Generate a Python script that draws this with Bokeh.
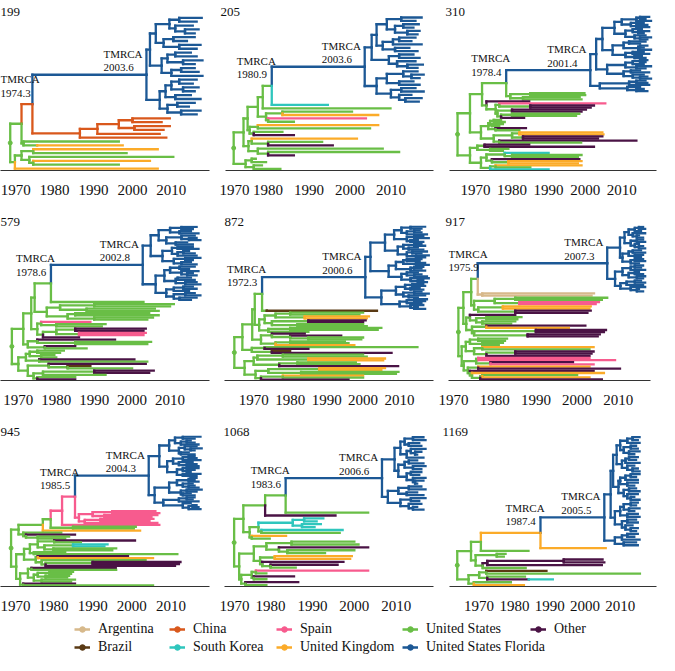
import re
from bokeh.plotting import figure
from bokeh.models import Range1d, ColumnDataSource, Legend, LegendItem
from bokeh.layouts import column, row
from bokeh.embed import file_html
from bokeh.resources import INLINE
from bokeh.core.properties import value

# ---------------- data ----------------
COUNTRIES = ["Argentina", "Brazil", "China", "South Korea", "Spain",
             "United Kingdom", "United States", "United States Florida", "Other"]
CODES = ["A", "B", "C", "K", "S", "G", "U", "F", "O"]
COLORS = ["#d7b98b", "#5a3a14", "#d9581c", "#2fc6bd", "#f75b8e",
          "#fbab29", "#69be46", "#1c5895", "#4a1345"]
TICKS = [1970, 1980, 1990, 2000, 2010]
PANEL_NAMES = ["199", "205", "310", "579", "872", "917", "945", "1068", "1169"]

# Trees: Newick-like, label = [country code] + date; code inherited from parent when absent.
# '*' marks nodes annotated with their TMRCA.  <F> = Florida clade.
BB_199 = ("(((<F>,"
          "((((2009.6,2007.5)2000,(2009.6,2008)2000.5)1996.5,2007)1991,2008.7)1986.5"
          ")C1974.3*,(1996.5,(G1997.5)1975.5)1972)1971.5,"
          "(((G2006.5,1998.5)1974.5,(2010.5,(G2004.5,1996.5)1974.5)1973.5)1971.5,G2006.5)1969.8"
          ")U1968.6")
FL_199 = ("((("
          "((2017.8,2016.5)2012,(2015.5,(2017,2016)2013.5)2011)2009.5,"
          "((2016,2014)2010.5,(2017.5,2016.5)2012)2008)2006,"
          "(((2015,2016.5)2011,(2018,2016)2013)2009,((2016,2017)2012.5,2018)2010)2007.5)2004.5,"
          "((((2016.5,2015.5)2012,(2017,2016)2013)2010,(2015,2017.5)2011)2008.5,"
          "((2016,2014.5)2011.5,(2017.5,2016.5)2012.5)2009)2007"
          ")F2003.6*")

BB_205 = ("((((((<F>,K1994.6)U1980.9*,2009.9)1978.7,"
          "((2000.5,G2006.9)1983.5,(S2003.9,1986.3)1980)1979.5)1977.5,"
          "((G2006.9,2004.9)1977.5,(1983.5,O1986.3)1976.5)1975.5)1975,"
          "((G2001.7,(1993.2,O1995.8)1980)1976,(2008,(2012,O1986.3)1980)1977.5)1975.2)1974,"
          "((1977,1979.5)1976,(1978.5,1983)1976.5)1974.5"
          ")U1971.6")
FL_205 = ("((("
          "((2017.5,2016)2012.5,((2016.8,2015.5)2013,(2017,2016.5)2014)2011)2009,"
          "(((2016,2015)2012,2017.5)2010.5,(2014.5,2016.5)2011)2008)2006.5,"
          "((2015.5,2017)2012,(2016,(2017.8,2016.5)2014)2011.5)2009.5)2005.3,"
          "(((2016.5,(2018,2017)2015)2013,(2015.5,2017)2012)2009,"
          "((2016,2018)2012.5,(2015,(2017.5,2016.8)2013.5)2012)2010)2006.5"
          ")F2003.6*")

BB_310 = ("((((<F>,((1999.8,2000)1985,(1998.5,1999)1983)1979.5)1978.4*,"
          "(O1984.7,((S2005.5,(O2002.4,O2001.5)1985)1976.5,((O2000.2,O1999)1980,((1998.4,1997.5)1980,O1983.3)1977)1976)1975.5)1973)1971.8,"
          "((((1977,1978)1975,(1977.5,1976.5)1974.5)1974,(O1983.8,1982)1975.5)1973.5,"
          "(((G2004.7,G2005)1982,(O2004.7,O2003.5)1983)1980,(O2014,1998.9)1976.5)1975)1971.5)1968.5,"
          "(((O1984.7,O2002.4)1972.5,(1979,1977.5)1974)1970.5,"
          "(((K1990,(1999,1998)1980)1978,(O1998.4,(G1999,G1998)1979)1974.5)1973,((G1999,1985)1975.5,K1990)1974)1971.5)1968.5"
          ")U1965.1")
FL_310 = ("((("
          "((((2017.5,2016.5)2015,2018)2014,(2016,(2017,2017.5)2014)2012.5)2010,"
          "((2015.5,(2017.5,2016)2014.5)2013,(2016.5,(2018,2017)2015)2013.5)2011)2008,"
          "(((2016.5,2015)2012,((2017,2016)2015,2018)2014.5)2010.5,((2016,2017.5)2013,(2015.5,2016.5)2013.5)2011)2007.5"
          ")2004.7,"
          "((((2017,2016.5)2015,2016)2013,(2018,2016.5)2014)2011,((2015,2017.5)2012.5,(2016,(2017,2018)2015)2013)2010.5)2006"
          ")2003,"
          "(((2016.5,2017)2014,2017.5)2012,(2015,(2016,2017)2014)2011.5)2004"
          ")F2001.4*")

BB_579 = ("(((((<F>,2003)1978.6*,"
          "(((2011,2010)1990,(2006,2007)1988)1981,((2004.5,2007)1985,(2005.5,2004)1990)1983)1977.5)1974.3,"
          "((S1989,(1993,1992)1980)1976,(((O2003.6,O2003)1985,(S2003.6,S2003)1986)1980,O1986)1976.5)1975)1973.4,"
          "((O1995.5,(2005,2004)1985)1975,(O1985,1988)1977)1972.5)1971.3,"
          "((((1982,1981)1975,(1979.5,1980)1976)1973,(O2000.6,2004)1975.5)1972,"
          "((O2003.6,(B1989,2000)1983)1978,(((O2005.7,O2004.5)1990,1993)1976.5,(1985,O1985)1975)1974)1972.5)1970"
          ")U1968.3")
FL_579 = ("(("
          "(((2017,2016)2013,(2015.5,2017.5)2012.5)2010,((2016.5,(2017,2018)2015)2013,(2014.5,2016)2011.5)2009)2007,"
          "(((2016,2017.5)2012,((2015,2016.5)2013.5,2017)2012)2010.5,((2018,2016)2014,(2015.5,2017)2013)2011)2008"
          ")2004.9,("
          "(((2016.5,2015)2012.5,(2017.5,(2016,2017)2014.5)2013)2010,((2015.5,2016.5)2012,(2017,2018)2014)2011.5)2008.5,"
          "(((2016,2017)2013.5,2015)2011,((2016.5,2018)2014,(2017,2015.5)2012.5)2011)2009"
          ")2006.2)F2002.8*")

BB_872 = ("(((((<F>,(B2003.8)1973.6)1972.3*,"
          "((((2000,1999)1980,(G2001.6,G2001)1984)1976,((O2000.7,O2000)1985,(2000,2001)1982)1975)1973,"
          "((2005,2004)1980,1985)1974)1971.5)1970.3,"
          "((O1984,(O1994,(2000,1999.5)1985)1980)1975,((1995,1996)1980,G1997.6)1976)1972)1969.6,"
          "((2014.9,O1985)1973,(B1980,O2007.8)1975)1969.5)1966.9,"
          "((((2000,2001)1978,(G2006,G2005.5)1985)1971,((1998,1999)1982,O2009.6)1977)1970,"
          "(((G2006,G2005)1988,(2009.7,2009)1983)1974,((G2000,2000)1978,O1996)1972)1970.5)1967.5"
          ")U1964.7")
FL_872 = ("(("
          "((((2017,2016)2013,((2015.5,2016)2014,2017.5)2012)2010.5,((2016.5,2018)2014,(2015,2016.5)2013)2012)2008.5,"
          "(((2016,2017)2014,(2015,2016.5)2012.5)2011,((2017.5,2016)2013.5,(2018,2017)2014.5)2012)2009.5)2006,"
          "((((2016,2015.5)2012,(2017,2018)2014.5)2011,((2016.5,2016)2014,2017)2013)2009,"
          "((2015,(2016,2017.5)2014)2012,(2018,(2016.5,2017.5)2015)2013)2010.5)2007"
          ")2002,"
          "((((2016.5,2017)2013.5,(2015.5,2016.5)2013)2011.5,((2016,2018)2014,(2017,2015)2012.5)2011)2009,"
          "(((2017.5,2017)2014,2016)2012,(2016.5,(2015,2017)2014)2013)2010)2005"
          ")F2000.6*")

BB_917 = ("((((<F>,(2004.1,2003.5)A1977)1975.9*,"
          "(((2007.3,2006)1985,(S2005.3,S2004.5)1986)1980,((G2003.3,G2003)1982,(O2003.3,O2002.5)1985)1976)1975)1974.3,"
          "((O1985,((1986.5,1985.5)1978,(1985,1984)1977)1975.5)1974,"
          "((O2002,G1998)1978,((O2007,O2006.5)1990,(O2005.5,O2005)1988)1975)1974.5)1973.1)1972.4,"
          "((((1983,1982.5)1976,(1982,1981)1977)1974,((G2004,2003)1977,((O2004,O2003.5)1985,O2003)1978)1975)1973,"
          "(((S2003,S2009.2)1976,(O1999,S2004)1979)1975.5,"
          "((G2003,O2010.4)1976,(O2004,(G2006.5,((2000,G2003)1977,O2006)1976.5)1974.5)1974)1973.5)1972.5)1972"
          ")U1971.2")
FL_917 = ("("
          "(((((2016,2016.5)2015,2015.5)2014,(2016.5,(2015,2016)2014.5)2013.5)2012.5,"
          "((2016,2016.5)2014.5,(2015,(2016,2016.5)2015)2014)2013)2011.5,"
          "(((2015.5,2016.5)2013.5,(2016,2015.5)2014)2012.5,((2016,2016.5)2014,2015)2013)2011)2010.4,"
          "((((2016,2015.5)2014,2016.5)2013,((2015,2016)2014,(2016.5,2016)2014.5)2012.5)2011,"
          "(((2015.5,2016.5)2014,2016)2012,(2016.5,(2015,2016)2014.5)2013)2010.5)2009.2"
          ")F2007.3*")

BB_945 = ("((((((<F>,(((2006,2007)1995,(2006.5,2005)1993)1990,((2005.5,2004.5)1992,2006.5)1988)1986.5)S1985.5*,"
          "2007)S1982.2,(2001,2000.5)1985)1979.3,G2002.1)1977.3,"
          "(1982,(O1985.5,(1984,1983)1976)1973)1972.3)1971.1,"
          "(((((O2000.8,1987)1980.2,((K1993.8,K1993)1985,(1996,1995)1980)1977.7)1976,(1983,2011.6)1975)1974,"
          "((O1999,G2005.4)1976,(2003.5,((O2012.4,O2012)1990,O2011)1978)1977)1975.5)1972.5,"
          "(((O1995.9,1996)1974.4,(((1985,1984.5)1979,(1984,1983.5)1978)1976,(1985.5,1984.5)1977)1975)1973.5,"
          "(O1985.5,2005.4)1972.3)1971.5)1970.5"
          ")U1969.2")
FL_945 = ("(("
          "(((2017.5,2016)2013,((2015,2016)2014,2017)2012.5)2011,((2016.5,(2017.8,2016)2015)2013.5,(2014.5,2016)2012.5)2012)2009.5,"
          "((((2016,2016.5)2014.5,2017.5)2013,(2015.5,(2016.5,2017)2014)2012)2010.5,"
          "((2017,(2016,2015)2014)2013,(2017.5,2016.5)2013)2011.5)2009"
          ")2007,("
          "((((2016.5,2016)2015,2017)2014.5,(2015.5,(2016,2017)2014.5)2013)2011.5,((2017.8,2016.5)2014,(2015,2016)2013)2012.5)2009.5,"
          "(((2016,2015.5)2014,2017)2012,(2015,((2016.5,2017)2015.5,2017.5)2014.5)2013)2008"
          ")2005.8)F2004.3*")

BB_1068 = ("((((<F>,2003.3)U1983.6*,O1995.5)1978.7,"
           "((((1992.6,1991)1988,(1992,1990.5)1987.5)K1985.3,(K1997.2,1996.5)1977.8)1977.1,(G1983.7,1979.8)1975.5)1975)1973.5,"
           "((((2000,2001)1985,(O2003.3,(2000,1993)1984)1982)1979,((G1999.4,G1999)1981,(O1997.4,(O1996,1986)1980)1978)1977.5)1976,"
           "(((S2003.3,1979)1976.5,(O1985.6,1979)1976)1975.5,(O1986.6,1979)1974)1973)1972.5"
           ")U1971.3")
FL_1068 = ("((("
           "((2016.5,2017)2014,(2015.5,2016)2013)2012,((2017,(2016,2015)2014.5)2013.5,2016.5)2012.5)2011,"
           "(((2015,2016.5)2013,(2017,2016)2014)2012,((2016,2015.5)2013.5,(2017,(2016.5,2015)2014.5)2014)2012.5)2010.5"
           ")2009.6,"
           "(((2016,2017)2013,(2015,2016.5)2012.5)2010.5,((2017,2015.5)2013.5,(2016,(2015,2016.5)2014)2013)2011)2008"
           ")F2006.6*")

BB_1169 = ("((((<F>,G2005.9)G1987.4*,1984)U1970.5,"
           "((1977.5,1977)1975,(((2005,2005.5)1994,2004.8)O1972.3,1983.2)1971)1969)1967.7,"
           "(((B1989.1,2015.6)1972,(1983,(K1990.9)O1984.1)1972.3)1970,(1979,G1982.7)1968.5)1967"
           ")U1963.8")
FL_1169 = ("(((("
           "(((2015.5,2015)2013.5,2015.5)2012,((2014.5,2015)2013,(2015.5,2014)2012.5)2011)2010,"
           "(((2015,2014.5)2012.5,2015.5)2011.5,(2014,(2015,2015.5)2013.5)2012)2010.5"
           ")2009,"
           "((((2015.5,2014.5)2013,2015)2011.5,(2015,2014)2012)2010,((2014.5,2015.5)2012.5,(2015,(2014,2015.5)2013)2012)2011)2009.5"
           ")2008,"
           "((((2015,2014.5)2013,(2015.5,2014)2012.5)2011,(2015,2015.5)2012)2010,((2014.5,2015)2012,(2013.5,(2015,2014.5)2013)2011.5)2010.5)2008.5"
           ")2007.3,"
           "(((2015,2014)2012,2015.5)2010.5,(2014.5,2015)2011)2008.5"
           ")F2005.5*")

BACKBONES = [BB_199, BB_205, BB_310, BB_579, BB_872, BB_917, BB_945, BB_1068, BB_1169]
FLORIDAS = [FL_199, FL_205, FL_310, FL_579, FL_872, FL_917, FL_945, FL_1068, FL_1169]

# ---------------- layout / style ----------------
X_START = [1966.1, 1969.6, 1962.9, 1965.3, 1962.0, 1968.8, 1966.5, 1969.0, 1961.6]
X_END = [2019.8, 2020.4, 2019.5, 2020.4, 2019.3, 2017.8, 2019.8, 2018.9, 2020.3]
BORDER_L = [0, 6, 11, 0, 5, 10, 0, 5, 11]
BORDER_R = [10, 5, 1, 10, 5, 7, 10, 5, 1]
TITLE_OFF = [0, -5, -4, 0, 0, -3, 0, -1, -7]
ROW_H = [210, 210, 196]
ROW_BOTTOM = [40, 40, 30]
PANEL_W = 219
FONT = "Liberation Serif"
COLOR_OF = dict(zip(CODES, COLORS))
LEG_COL_X = [74, 169, 276, 402, 530]

TOKEN = re.compile(r"\(|\)|,|[A-Z]?\d+(?:\.\d+)?\*?")


def parse_tree(text):
    s = re.sub(r"\s+", "", text)
    toks = TOKEN.findall(s)
    assert "".join(toks) == s, "bad characters in tree"
    pos = 0

    def node():
        nonlocal pos
        kids = []
        if toks[pos] == "(":
            pos += 1
            while True:
                kids.append(node())
                tok = toks[pos]
                pos += 1
                if tok == ")":
                    break
        lab = toks[pos]
        pos += 1
        code = lab[0] if lab[0].isalpha() else None
        num = lab.lstrip("ABCFGKOSU").rstrip("*")
        return {"code": code, "t": float(num), "kids": kids, "star": lab.endswith("*")}

    root = node()
    assert pos == len(toks), "unbalanced tree"
    return root


def layout(root):
    tips = []

    def walk(n, code):
        n["code"] = n["code"] or code
        if not n["kids"]:
            tips.append(n)
        for k in n["kids"]:
            walk(k, n["code"])

    walk(root, root["code"])
    N = len(tips)
    for i, tp in enumerate(tips):
        tp["y"] = N - 1 - i

    def sety(n):
        if n["kids"]:
            n["y"] = sum(sety(k) for k in n["kids"]) / len(n["kids"])
        return n["y"]

    sety(root)
    return N


def collect(n, seg, stars):
    if n["star"]:
        stars.append(n)
    for k in n["kids"]:
        c = COLOR_OF[k["code"]]
        seg["x0"] += [n["t"], n["t"]]
        seg["y0"] += [n["y"], k["y"]]
        seg["x1"] += [n["t"], k["t"]]
        seg["y1"] += [k["y"], k["y"]]
        seg["c"] += [c, c]
        collect(k, seg, stars)


def make_panel(i):
    root = parse_tree(BACKBONES[i].replace("<F>", FLORIDAS[i]))
    N = layout(root)
    seg = {"x0": [], "y0": [], "x1": [], "y1": [], "c": []}
    stars = []
    collect(root, seg, stars)
    r = i // 3
    p = figure(width=PANEL_W, height=ROW_H[r],
               x_range=Range1d(X_START[i], X_END[i]), y_range=Range1d(-0.5, N - 0.4),
               output_backend="svg", toolbar_location=None, y_axis_location=None,
               min_border_left=BORDER_L[i], min_border_right=BORDER_R[i],
               min_border_top=15, min_border_bottom=ROW_BOTTOM[r])
    p.title.text = PANEL_NAMES[i]
    p.title.text_font = FONT
    p.title.text_font_size = "13px"
    p.title.text_font_style = "normal"
    p.title.text_color = "#111111"
    p.title.align = "left"
    p.title.standoff = 0
    p.title.offset = TITLE_OFF[i]
    p.outline_line_color = None
    p.grid.visible = False
    p.background_fill_color = None
    p.border_fill_color = None

    p.segment("x0", "y0", "x1", "y1", source=ColumnDataSource(seg),
              line_color="c", line_width=2.3, line_cap="square")
    p.scatter([root["t"]], [root["y"]], color=COLOR_OF[root["code"]], size=4)

    frame_w = PANEL_W - BORDER_L[i] - BORDER_R[i]
    ppy = frame_w / (X_END[i] - X_START[i])
    for n in stars:
        inner = n["code"] == "F"
        dx = -43 if inner else -35
        dy = 7 if inner else 11
        node_px = (n["t"] - X_START[i]) * ppy
        if node_px + dx < 0:
            dx = -node_px
        p.text([n["t"]], [n["y"]], text=["%.1f" % n["t"]], x_offset=dx, y_offset=-dy,
               text_align="left", text_baseline="middle", text_font=value(FONT),
               text_font_size="11px", text_color="#111111")
        p.text([n["t"]], [n["y"]], text=["TMRCA"], x_offset=dx, y_offset=-(dy + 14),
               text_align="left", text_baseline="middle", text_font=value(FONT),
               text_font_size="11px", text_color="#111111")

    ax = p.xaxis[0]
    ax.ticker = TICKS
    ax.major_label_text_font = FONT
    ax.major_label_text_font_size = "15px"
    ax.major_label_text_color = "#111111"
    ax.major_tick_line_color = None
    ax.minor_tick_line_color = None
    ax.major_tick_out = 0
    ax.major_tick_in = 0
    ax.axis_line_color = "#333333"
    ax.axis_line_width = 1
    ax.major_label_standoff = 14
    return p


panels = [make_panel(i) for i in range(9)]

lg = figure(width=3 * PANEL_W, height=39, output_backend="svg", toolbar_location=None,
            x_axis_location=None, y_axis_location=None,
            x_range=Range1d(0, 1), y_range=Range1d(0, 1), min_border=0)
lg.outline_line_color = None
lg.grid.visible = False
items = []
for name, col in zip(COUNTRIES, COLORS):
    r1 = lg.line([5, 6], [5, 5], line_color=col, line_width=2.5)
    r2 = lg.scatter([5.5], [5], color=col, size=5)
    items.append(LegendItem(label=name, renderers=[r1, r2]))
for j, x in enumerate(LEG_COL_X):
    col_items = items[2 * j:2 * j + 2]
    leg = Legend(items=col_items, location=(x, 0 if len(col_items) == 2 else 18),
                 orientation="vertical",
                 label_text_font=FONT, label_text_font_size="14px", label_text_color="#111111",
                 glyph_width=16, glyph_height=14, label_height=14, label_standoff=8, spacing=2,
                 padding=0, margin=0, border_line_color=None, background_fill_alpha=0)
    lg.add_layout(leg)

layout_all = column(row(*panels[0:3]), row(*panels[3:6]), row(*panels[6:9]), lg)
open("out.html", "w").write(file_html(layout_all, INLINE))
